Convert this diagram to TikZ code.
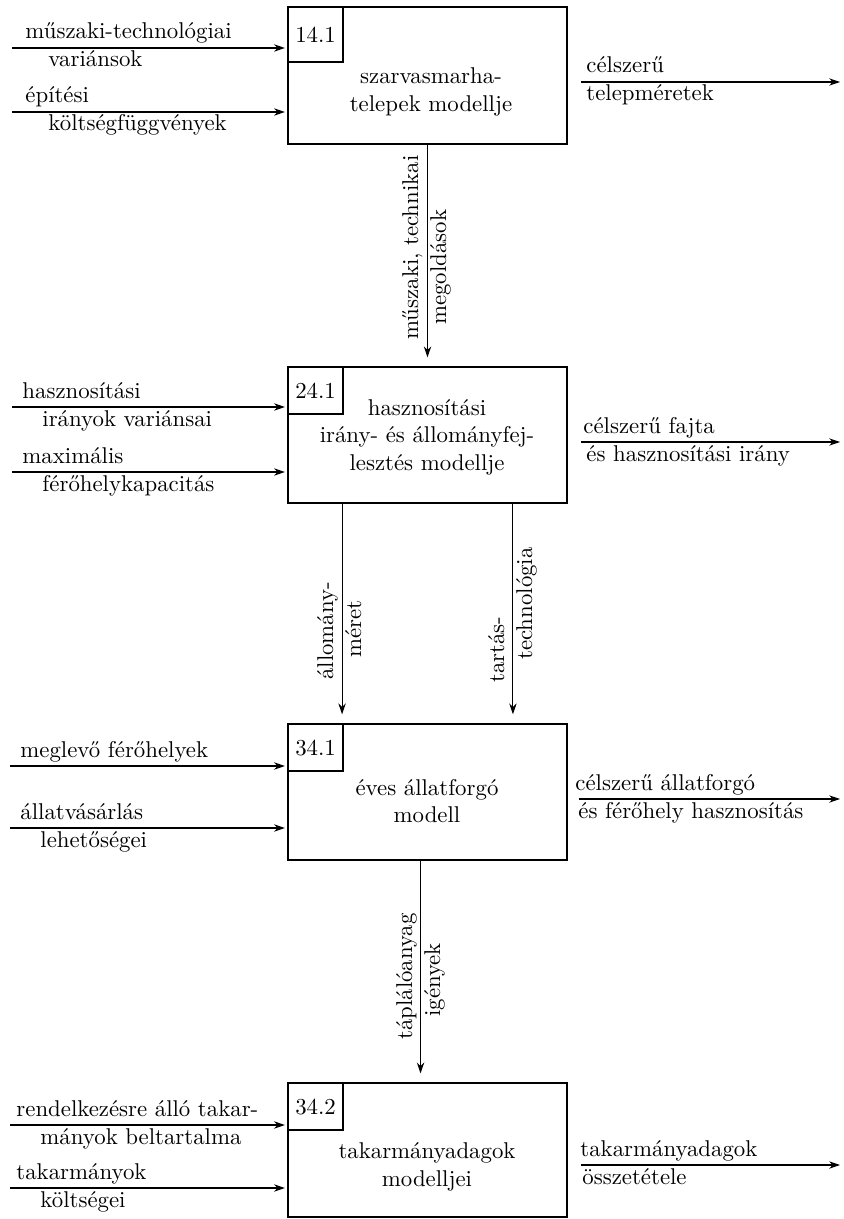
\documentclass[tikz,border=0pt]{standalone}
\usepackage{fontspec}
\usetikzlibrary{arrows.meta}
\tikzset{
  modbox/.style={draw, line width=0.9pt, minimum width=128.3pt, minimum height=62.6pt, inner sep=0pt},
  numbox/.style={draw, line width=0.9pt, anchor=north west, minimum width=25.3pt, minimum height=21.8pt, inner sep=0pt},
  modtext/.style={align=center, inner sep=0pt},
  lbl/.style={anchor=base west, inner sep=0pt},
  vlbl/.style={lbl, rotate=90},
}
\begin{document}
\begin{tikzpicture}[x=0.46pt, y=-0.46pt, >={Stealth[length=5pt,width=3.4pt]},
    font=\fontsize{10.5}{12.6}\selectfont]
      \useasboundingbox (0,0) rectangle (843,1219);
      % modellek
      \node[modbox] (b141) at (427.5,75.5) {};
      \node[modbox] (b241) at (427.5,435) {};
      \node[modbox] (b341) at (427.5,792) {};
      \node[modbox, minimum height=61.6pt] (b342) at (427.5,1150) {};
      \node[numbox, minimum height=25pt] (n141) at (b141.north west) {14.1};
      \node[numbox] (n241) at (b241.north west) {24.1};
      \node[numbox] (n341) at (b341.north west) {34.1};
      \node[numbox] (n342) at (b342.north west) {34.2};
      \node[modtext] (t141) at (431,92) {szarvasmarha-\\telepek modellje};
      \node[modtext] (t241) at (427,437) {hasznosítási\\irány- és állományfej-\\lesztés modellje};
      \node[modtext] (t341) at (427,801) {éves állatforgó\\modell};
      \node[modtext] (t342) at (427,1167) {takarmányadagok\\modelljei};
      % szabad vegek
      \coordinate (i11) at (12,48);
      \coordinate (i12) at (12,112);
      \coordinate (o14) at (840,82);
      \coordinate (i21) at (12,407);
      \coordinate (i22) at (12,472);
      \coordinate (o24) at (840,442);
      \coordinate (i31) at (10,766);
      \coordinate (i32) at (10,828);
      \coordinate (o34) at (840,799);
      \coordinate (i41) at (10,1125);
      \coordinate (i42) at (10,1188);
      \coordinate (o44) at (840,1165);
      % feliratok
      \node[lbl] (l11a) at (25,39) {műszaki-technológiai};
      \node[lbl] (l11b) at (48,67) {variánsok};
      \node[lbl] (l12a) at (25,103) {építési};
      \node[lbl] (l12b) at (48,131) {költségfüggvények};
      \node[lbl] (l14a) at (586,73) {célszerű};
      \node[lbl] (l14b) at (586,101) {telepméretek};
      \node[lbl] (l21a) at (22,398) {hasznosítási};
      \node[lbl] (l21b) at (42,426) {irányok variánsai};
      \node[lbl] (l22a) at (22,463) {maximális};
      \node[lbl] (l22b) at (42,491) {férőhelykapacitás};
      \node[lbl] (l24a) at (583,433) {célszerű fajta};
      \node[lbl] (l24b) at (586,461) {és hasznosítási irány};
      \node[lbl] (l31a) at (20,757) {meglevő férőhelyek};
      \node[lbl] (l32a) at (20,819) {állatvásárlás};
      \node[lbl] (l32b) at (40,847) {lehetőségei};
      \node[lbl] (l34a) at (575,790) {célszerű állatforgó};
      \node[lbl] (l34b) at (578,818) {és férőhely hasznosítás};
      \node[lbl] (l41a) at (16,1116) {rendelkezésre álló takar-};
      \node[lbl] (l41b) at (40,1144) {mányok beltartalma};
      \node[lbl] (l42a) at (16,1179) {takarmányok};
      \node[lbl] (l42b) at (40,1207) {költségei};
      \node[lbl] (l44a) at (580,1156) {takarmányadagok};
      \node[lbl] (l44b) at (582,1184) {összetétele};
      \node[vlbl] (v1a) at (418,340) {műszaki, technikai};
      \node[vlbl] (v1b) at (446,325) {megoldások};
      \node[vlbl] (v2a) at (333,680) {állomány-};
      \node[vlbl] (v2b) at (361,658) {méret};
      \node[vlbl] (v3a) at (504,683) {tartás-};
      \node[vlbl] (v3b) at (532,660) {technológia};
      \node[vlbl] (v4a) at (412,1040) {táplálóanyag};
      \node[vlbl] (v4b) at (440,1017) {igények};
      \begin{scope}[->, line width=0.5pt]
        \draw[shorten >=1pt] (i11) to (i11 -| b141.west);
        \draw[shorten >=1pt] (i12) to (i12 -| b141.west);
        \draw[shorten <=6pt] (b141.east |- o14) to (o14);
        \draw[shorten >=4pt] (b141.south) to (b241.north);
        \draw[shorten >=1pt] (i21) to (i21 -| b241.west);
        \draw[shorten >=1pt] (i22) to (i22 -| b241.west);
        \draw[shorten <=6pt] (b241.east |- o24) to (o24);
        \draw[shorten >=4pt] ([xshift=-39.3pt]b241.south) to ([xshift=-39.3pt]b341.north);
        \draw[shorten >=4pt] ([xshift=39.3pt]b241.south) to ([xshift=39.3pt]b341.north);
        \draw[shorten >=1pt] (i31) to (i31 -| b341.west);
        \draw[shorten >=1pt] (i32) to (i32 -| b341.west);
        \draw[shorten <=5pt] (b341.east |- o34) to (o34);
        \draw[shorten >=4pt] ([xshift=-3.2pt]b341.south) to ([xshift=-3.2pt]b342.north);
        \draw[shorten >=1pt] (i41) to (i41 -| b342.west);
        \draw[shorten >=1pt] (i42) to (i42 -| b342.west);
        \draw[shorten <=6pt] (b342.east |- o44) to (o44);
      \end{scope}
    \end{tikzpicture}
\end{document}
